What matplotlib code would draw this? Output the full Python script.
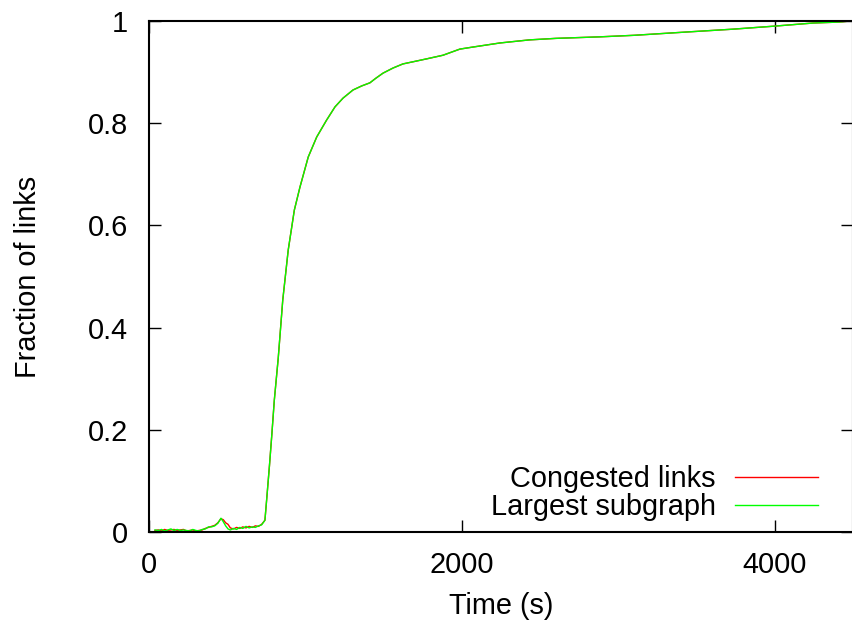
import matplotlib
matplotlib.use("Agg")
import matplotlib.pyplot as plt

plt.rcParams['font.family'] = ['Liberation Sans', 'DejaVu Sans']

# Time samples (seconds)
time_s = [38, 60, 80, 100, 120, 140, 160, 180, 200, 220, 240, 260, 280, 300,
          320, 340, 360, 380, 400, 420, 440, 460, 475, 490, 505, 520, 540,
          560, 580, 600, 620, 640, 660, 680, 700, 720, 741, 752, 770, 785,
          801, 826, 855, 890, 929, 965, 1018, 1072, 1135, 1189, 1240, 1304,
          1360, 1412, 1450, 1496, 1560, 1623, 1700, 1776, 1879, 1987, 2070,
          2243, 2430, 2600, 2882, 3100, 3412, 3732, 4000, 4243, 4415, 4480]

# Fraction of links that are congested
congested = [0.003, 0.004, 0.002, 0.005, 0.003, 0.004, 0.005, 0.003, 0.004,
             0.005, 0.002, 0.003, 0.004, 0.002, 0.003, 0.004, 0.007, 0.009,
             0.011, 0.013, 0.018, 0.026, 0.024, 0.018, 0.015, 0.008, 0.006,
             0.009, 0.007, 0.010, 0.008, 0.011, 0.009, 0.012, 0.011, 0.015,
             0.023, 0.063, 0.13, 0.19, 0.258, 0.34, 0.454, 0.552, 0.63, 0.675,
             0.734, 0.773, 0.806, 0.832, 0.849, 0.865, 0.873, 0.879, 0.888,
             0.898, 0.908, 0.916, 0.921, 0.926, 0.933, 0.945, 0.949, 0.957,
             0.963, 0.966, 0.969, 0.972, 0.978, 0.984, 0.990, 0.996, 0.998,
             1.0]

# Fraction of links in the largest congested subgraph
largest = [0.004, 0.003, 0.005, 0.002, 0.004, 0.006, 0.003, 0.005, 0.003,
           0.004, 0.003, 0.002, 0.005, 0.003, 0.002, 0.005, 0.006, 0.010,
           0.010, 0.012, 0.017, 0.027, 0.020, 0.012, 0.006, 0.004, 0.007,
           0.005, 0.009, 0.007, 0.011, 0.008, 0.010, 0.009, 0.012, 0.014,
           0.023, 0.063, 0.13, 0.19, 0.258, 0.34, 0.454, 0.552, 0.63, 0.675,
           0.734, 0.773, 0.806, 0.832, 0.849, 0.865, 0.873, 0.879, 0.888,
           0.898, 0.908, 0.916, 0.921, 0.926, 0.933, 0.945, 0.949, 0.957,
           0.963, 0.966, 0.969, 0.972, 0.978, 0.984, 0.990, 0.996, 0.998,
           1.0]

x_ticks = [0, 2000, 4000]
y_ticks = [0, 0.2, 0.4, 0.6, 0.8, 1.0]
y_tick_labels = ["0", "0.2", "0.4", "0.6", "0.8", "1"]

FS = 20.8

fig = plt.figure(figsize=(8.52, 6.27), dpi=100)
ax = fig.add_axes([149 / 852, 95 / 627, 704 / 852, 511 / 627])

ax.plot(time_s, congested, color="#ff0000", lw=1.0, label="Congested links")
ax.plot(time_s, largest, color="#00ff00", lw=1.0, label="Largest subgraph")

ax.set_xlim(0, 4500)
ax.set_ylim(0, 1)
ax.set_xticks(x_ticks)
ax.set_xticklabels([str(v) for v in x_ticks])
ax.set_yticks(y_ticks)
ax.set_yticklabels(y_tick_labels)

ax.tick_params(direction="in", length=8.6, width=1.0, top=True, right=True,
               labelsize=FS, pad=14, color="black")
ax.tick_params(axis="y", pad=15)
for s in ax.spines.values():
    s.set_linewidth(1.5)

ax.set_xlabel("Time (s)", fontsize=FS, labelpad=9)
ax.set_ylabel("Fraction of links", fontsize=FS, labelpad=33)

leg = ax.legend(loc="lower right", bbox_to_anchor=(0.950, 0.022),
                markerfirst=False, frameon=False, fontsize=FS,
                handlelength=2.88, handletextpad=0.65, labelspacing=0.0,
                borderaxespad=0.0, borderpad=0.0)

fig.savefig("out.png", dpi=100)
